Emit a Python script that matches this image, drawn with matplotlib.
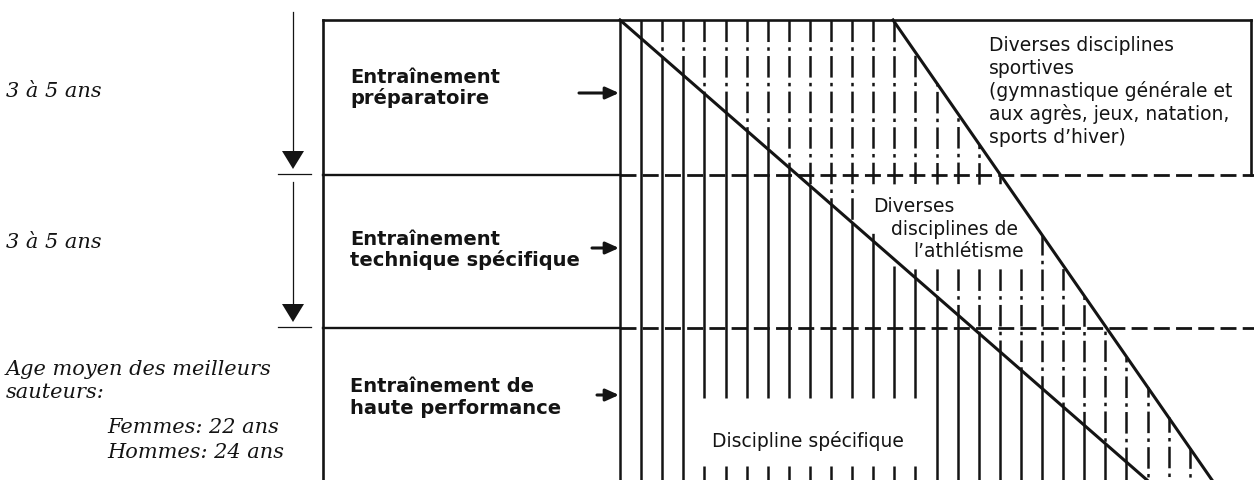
import numpy as np
import matplotlib
matplotlib.use("Agg")
import matplotlib.pyplot as plt

plt.rcParams['lines.scale_dashes'] = False
ink = '#141414'

# phases of the training (rows of the box), y positions in pixels
phase_labels = [["Entraînement", "préparatoire"],
                ["Entraînement", "technique spécifique"],
                ["Entraînement de", "haute performance"]]
phase_baselines = [[83, 104], [245, 266], [392, 414]]
phase_arrow_y = [93, 248, 395]
phase_arrow_x0 = [579, 592, 597]
row_bounds = [20, 175, 328, 480]

durations = ["3 à 5 ans", "3 à 5 ans"]
duration_baselines = [97, 248]

age_lines = ["Age moyen des meilleurs", "sauteurs:"]
age_baselines = [375, 398]
age_values = ["Femmes: 22 ans", "Hommes: 24 ans"]
age_value_baselines = [433, 458]

sport_lines = ["Diverses disciplines", "sportives",
               "(gymnastique générale et", "aux agrès, jeux, natation,",
               "sports d’hiver)"]
sport_baselines = [51, 74, 97, 120, 143]

athl_lines = ["Diverses", "disciplines de", "l’athlétisme"]
athl_x = [873, 891, 913]
athl_baselines = [212, 235, 257]

spec_label = "Discipline spécifique"

# geometry
box_left, box_right = 323, 1251
hatch_x0, hatch_step, n_hatch = 620, 21.1, 28
diag1 = (620, 20, 1147, 480)
diag2 = (893, 20, 1212, 480)
# blank areas around the labels: x0, x1, y0, y1
gaps = [(700, 925, 398, 466), (866, 1032, 186, 232), (886, 1032, 232, 266)]

fig = plt.figure(figsize=(12.54, 4.8), dpi=100)
ax = fig.add_axes([0, 0, 1, 1])
ax.set_xlim(0, 1254)
ax.set_ylim(480, 0)
ax.axis('off')


def diag_y(d, x):
    x0, y0, x1, y1 = d
    return y0 + (x - x0) * (y1 - y0) / (x1 - x0)


def cut(seg, holes):
    out = [seg]
    for h0, h1 in holes:
        new = []
        for a, b in out:
            if h1 <= a or h0 >= b:
                new.append((a, b))
            else:
                if a < h0:
                    new.append((a, h0))
                if b > h1:
                    new.append((h1, b))
        out = new
    return out


# frame
ax.plot([box_left, box_right], [20, 20], color=ink, lw=1.9, solid_capstyle='projecting')
ax.plot([box_left, box_left], [20, 480], color=ink, lw=1.9)
ax.plot([box_right, box_right], [20, 175], color=ink, lw=1.9)
for yb in row_bounds[1:3]:
    ax.plot([box_left, hatch_x0], [yb, yb], color=ink, lw=1.7)
    ax.plot([hatch_x0, 1254], [yb, yb], color=ink, lw=2.0,
            linestyle=(0, (11.5, 4.5)))

# vertical hatching
dd = (15.5, 3.8, 2.5, 3.8)
for k in range(n_hatch):
    x = hatch_x0 + k * hatch_step
    y1 = min(max(diag_y(diag1, x), 20), 480)
    y2 = min(max(diag_y(diag2, x), 20), 480)
    holes = [(g[2], g[3]) for g in gaps if g[0] <= x <= g[1]]
    for a, b in cut((y1, 480), holes):
        ax.plot([x, x], [a, b], color=ink, lw=1.8, solid_capstyle='butt')
    if y2 < y1:
        for a, b in cut((y2, y1), holes):
            ax.plot([x, x], [a, b], color=ink, lw=1.8,
                    linestyle=((a - 20) * 0.72, dd))

# diagonals
for d in (diag1, diag2):
    ax.plot([d[0], d[2]], [d[1], d[3]], color=ink, lw=2.2)

# duration arrows on the left
for i in range(2):
    top = 12 if i == 0 else row_bounds[1] + 7
    tip = row_bounds[i + 1] - 6
    ax.plot([293, 293], [top, tip - 17], color=ink, lw=0.9)
    ax.fill([282, 304, 293], [tip - 18, tip - 18, tip], color=ink, lw=0)
    ax.plot([278, 311], [row_bounds[i + 1] - 1, row_bounds[i + 1] - 1], color=ink, lw=0.9)

# phase labels and arrows
for lab, bls, ay, ax0 in zip(phase_labels, phase_baselines, phase_arrow_y, phase_arrow_x0):
    for t, b in zip(lab, bls):
        ax.text(350, b, t, fontsize=14, fontweight='bold', family='DejaVu Sans',
                color=ink, va='baseline', ha='left')
    ax.annotate('', xy=(619, ay), xytext=(ax0, ay),
                arrowprops=dict(arrowstyle='-|>,head_length=0.8,head_width=0.36',
                                lw=2.2, color=ink, shrinkA=0, shrinkB=0,
                                mutation_scale=10))

serif = dict(fontsize=15, style='italic', family='DejaVu Serif', color=ink,
             va='baseline', ha='left')
for t, b in zip(durations, duration_baselines):
    ax.text(6, b, t, **serif)
for t, b in zip(age_lines, age_baselines):
    ax.text(6, b, t, **serif)
for t, b in zip(age_values, age_value_baselines):
    ax.text(107, b, t, **serif)

sans = dict(fontsize=13.5, family='DejaVu Sans', color=ink, va='baseline', ha='left')
for t, b in zip(sport_lines, sport_baselines):
    ax.text(989, b, t, **sans)
for t, x, b in zip(athl_lines, athl_x, athl_baselines):
    ax.text(x, b, t, **sans)
ax.text(712, 447, spec_label, **sans)

fig.savefig('out.png', dpi=100, facecolor='white')
